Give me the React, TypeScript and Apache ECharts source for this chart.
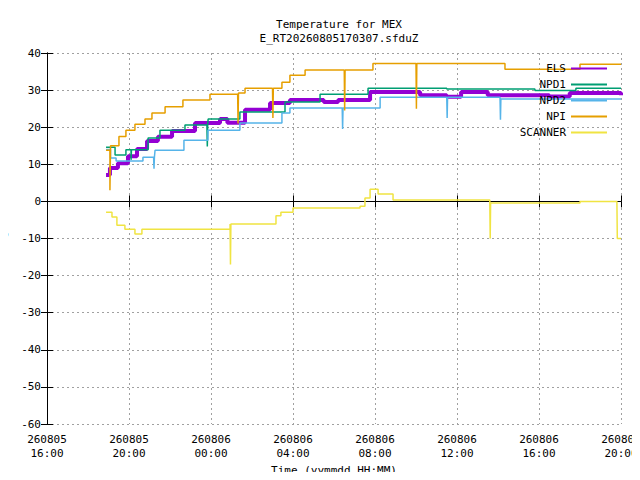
import { useEffect, useRef } from 'react'
import * as echarts from 'echarts'

// hours since 260805 16:00, value in °C
const xTickLabels = [
  '260805\n16:00', '260805\n20:00', '260806\n00:00', '260806\n04:00',
  '260806\n08:00', '260806\n12:00', '260806\n16:00', '260806\n20:00',
]

const els: Array<[number, number]> = [
  [2.88, 7.1], [3.07, 9], [3.46, 10.3], [3.95, 12.2], [4.39, 14.1], [4.88, 16.3],
  [5.41, 17.4], [6.1, 19], [7.22, 21.1], [8.44, 22.2], [8.8, 21.2], [9.66, 24.7],
  [10.88, 26.5], [11.85, 27.3], [13.5, 26.8], [14.2, 27.3], [15.76, 29.5], [18.2, 28.6],
  [19.5, 28.2], [20.2, 29.5], [21.5, 28.6], [24.5, 28.3], [25.5, 29.2], [28, 28.6],
]
const npd1: Array<[number, number]> = [
  [2.88, 14.6], [3.32, 12.5], [3.85, 13.9], [4.1, 11.2], [4.12, 13.9], [4.93, 17.1],
  [5.51, 19.2], [6.73, 20.6], [7.8, 20.6], [7.82, 14.8], [7.84, 20.6], [7.86, 22.2],
  [9.41, 24.1], [11.61, 26.8], [13.32, 28.9], [15.66, 30.5], [19.5, 30.3], [23.8, 29.9],
  [25.8, 30.5], [28, 30.5],
]
const npd2: Array<[number, number]> = [
  [2.88, 14], [3.1, 11.7], [3.37, 10.9], [4.68, 11.9], [5.2, 11.9], [5.22, 8.8],
  [5.24, 11.9], [5.27, 13.8], [6.68, 16.5], [7.85, 19.2], [9.41, 21.1], [11.46, 23.8],
  [11.85, 25.2], [14.4, 25.2], [14.42, 19.5], [14.44, 25.2], [16.25, 28.1], [19.5, 28.1],
  [19.52, 22.5], [19.54, 28.1], [22.1, 27.6], [22.12, 22], [22.14, 27.6], [28, 27.6],
]
const npi: Array<[number, number]> = [
  [2.88, 13.8], [3.07, 3], [3.1, 15], [3.51, 17.5], [3.85, 19.2], [4.29, 20.8],
  [4.78, 22.2], [5.12, 23.8], [5.76, 25.5], [6.63, 27.3], [7.95, 28.9], [9.3, 28.9],
  [9.32, 21], [9.34, 29.2], [9.66, 30.5], [11.0, 30.5], [11.02, 22.5], [11.04, 30.5],
  [11.46, 32.1], [11.85, 34], [12.59, 35.4], [14.5, 35.4], [14.52, 24.5], [14.54, 35.4],
  [15.9, 37.2], [18.0, 37.2], [18.02, 25], [18.04, 37.2], [22.34, 35.6], [26.0, 37], [28, 37],
]
const scanner: Array<[number, number]> = [
  [2.88, -2.9], [3.17, -4.2], [3.41, -6.4], [3.8, -7.5], [4.29, -8.8], [4.63, -7.5],
  [8.93, -6.1], [8.95, -17], [8.97, -6.1], [11.17, -3.9], [11.41, -2.9], [12.0, -1.8],
  [15.27, -1.3], [15.51, 0.9], [15.76, 3.3], [16.15, 2], [16.88, 0.4], [21.6, -0.4],
  [21.62, -10], [21.64, -0.4], [26.0, 0], [27.8, 0], [27.82, -10], [28, -10],
]

const colors = ['#9400d3', '#009e73', '#56b4e9', '#e69f00', '#f0e442']
const names = ['ELS', 'NPD1', 'NPD2', 'NPI', 'SCANNER']
const seriesData = [els, npd1, npd2, npi, scanner]

const font = 'DejaVu Sans Mono'

export default function App() {
  const ref = useRef<HTMLDivElement>(null)

  useEffect(() => {
    if (!ref.current) return
    const chart = echarts.init(ref.current, null, { renderer: 'svg' })
    const axisLine = { lineStyle: { color: '#000', width: 1 } }
    const tick = { inside: true, length: 6, lineStyle: { color: '#000' } }
    const grid = { lineStyle: { color: '#a0a0a0', type: [2, 3] as number[] } }
    chart.setOption({
      animation: false,
      title: {
        text: 'Temperature for MEX\nE_RT20260805170307.sfduZ',
        left: 334,
        top: 12,
        textAlign: 'center',
        textStyle: { fontFamily: font, fontSize: 11, fontWeight: 'normal', color: '#000', lineHeight: 14 },
      },
      grid: { left: 47, right: 19, top: 53, bottom: 56, containLabel: false, outerBoundsMode: 'none' },
      legend: {
        orient: 'vertical',
        right: 28,
        top: 58,
        align: 'right',
        itemGap: 5,
        itemWidth: 36,
        itemHeight: 2,
        icon: 'rect',
        textStyle: { fontFamily: font, fontSize: 11, color: '#000' },
        data: names,
      },
      xAxis: [
        {
          type: 'value', min: 0, max: 28, interval: 4,
          name: 'Time (yymmdd HH:MM)', nameLocation: 'middle', nameGap: 40,
          nameTextStyle: { fontFamily: font, fontSize: 11, color: '#000' },
          axisLine, axisTick: tick, splitLine: grid,
          axisLabel: {
            fontFamily: font, fontSize: 11, color: '#000', lineHeight: 14, margin: 8,
            formatter: (v: number) => xTickLabels[v / 4] ?? '',
          },
        },
        { type: 'value', position: 'top', min: 0, max: 28, interval: 4, axisLine, axisTick: tick, axisLabel: { show: false }, splitLine: { show: false } },
      ],
      yAxis: [
        {
          type: 'value', min: -60, max: 40, interval: 10,
          name: '°C', nameLocation: 'middle', nameGap: 32, nameRotate: 90,
          nameTextStyle: { fontFamily: font, fontSize: 11, color: '#000' },
          axisLine: { show: true, ...axisLine }, axisTick: tick, splitLine: grid,
          axisLabel: { fontFamily: font, fontSize: 11, color: '#000', margin: 6 },
        },
        { type: 'value', position: 'right', min: -60, max: 40, interval: 10, axisLine: { show: true, ...axisLine }, axisTick: tick, axisLabel: { show: false }, splitLine: { show: false } },
      ],
      series: seriesData.map((d, i) => ({
        name: names[i],
        type: 'line',
        step: 'end',
        data: d,
        symbol: 'none',
        color: colors[i],
        lineStyle: { color: colors[i], width: i === 0 ? 4 : 1.5 },
      })),
    })
    return () => chart.dispose()
  }, [])

  return <div ref={ref} style={{ width: 640, height: 480, margin: -8 }} />
}
